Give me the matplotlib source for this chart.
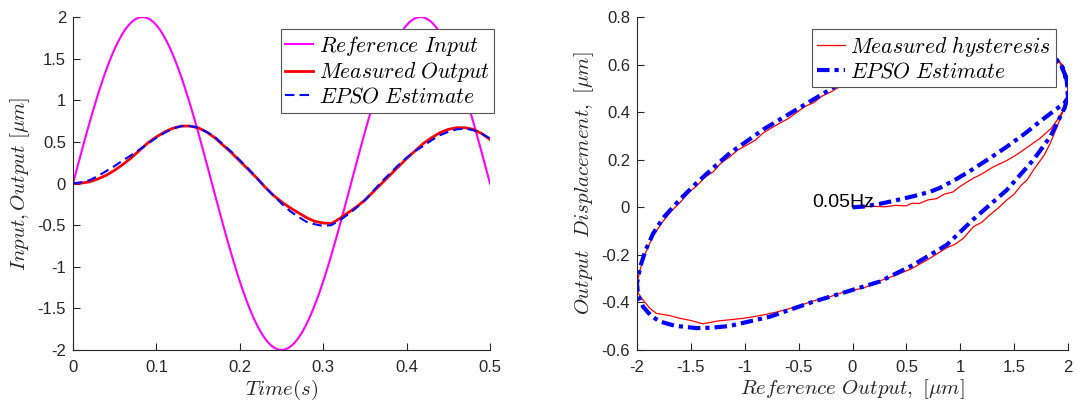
import matplotlib
matplotlib.use("Agg")
import matplotlib.pyplot as plt

plt.rcParams['mathtext.fontset'] = 'cm'
plt.rcParams['font.family'] = ['Liberation Sans', 'DejaVu Sans']
plt.rcParams['axes.unicode_minus'] = False

# ---------------- Left panel data ----------------
t_ref = [k / 240 for k in range(121)]
ref_input = [0.0, 0.157, 0.313, 0.467, 0.618, 0.765, 0.908, 1.045, 1.176, 1.299, 1.414,
             1.521, 1.618, 1.705, 1.782, 1.848, 1.902, 1.945, 1.975, 1.994, 2.0,
             1.994, 1.975, 1.945, 1.902, 1.848, 1.782, 1.705, 1.618, 1.521, 1.414,
             1.299, 1.176, 1.045, 0.908, 0.765, 0.618, 0.467, 0.313, 0.157, 0.0,
             -0.157, -0.313, -0.467, -0.618, -0.765, -0.908, -1.045, -1.176, -1.299, -1.414,
             -1.521, -1.618, -1.705, -1.782, -1.848, -1.902, -1.945, -1.975, -1.994, -2.0,
             -1.994, -1.975, -1.945, -1.902, -1.848, -1.782, -1.705, -1.618, -1.521, -1.414,
             -1.299, -1.176, -1.045, -0.908, -0.765, -0.618, -0.467, -0.313, -0.157, 0.0,
             0.157, 0.313, 0.467, 0.618, 0.765, 0.908, 1.045, 1.176, 1.299, 1.414,
             1.521, 1.618, 1.705, 1.782, 1.848, 1.902, 1.945, 1.975, 1.994, 2.0,
             1.994, 1.975, 1.945, 1.902, 1.848, 1.782, 1.705, 1.618, 1.521, 1.414,
             1.299, 1.176, 1.045, 0.908, 0.765, 0.618, 0.467, 0.313, 0.157, 0.0]

t_out = [k / 100 for k in range(51)]
measured_out = [0.0, 0.005, 0.02, 0.055, 0.10, 0.16, 0.23, 0.31, 0.40, 0.49,
                0.56, 0.62, 0.665, 0.69, 0.69, 0.67, 0.62, 0.55, 0.46, 0.37,
                0.27, 0.17, 0.07, -0.04, -0.14, -0.22, -0.29, -0.35, -0.41, -0.455,
                -0.475, -0.48, -0.42, -0.35, -0.28, -0.20, -0.10, 0.0, 0.10, 0.20,
                0.30, 0.39, 0.48, 0.55, 0.61, 0.65, 0.67, 0.67, 0.65, 0.60, 0.53]
epso_out = [0.0, 0.015, 0.04, 0.09, 0.15, 0.21, 0.28, 0.34, 0.41, 0.48,
            0.55, 0.61, 0.66, 0.69, 0.69, 0.67, 0.62, 0.56, 0.47, 0.38,
            0.28, 0.18, 0.07, -0.04, -0.14, -0.24, -0.33, -0.40, -0.46, -0.49,
            -0.51, -0.50, -0.44, -0.37, -0.29, -0.20, -0.09, 0.02, 0.12, 0.22,
            0.31, 0.39, 0.45, 0.52, 0.58, 0.62, 0.65, 0.66, 0.64, 0.60, 0.54]

# ---------------- Right panel data ----------------
hyst_x = [0.0, 0.2, 0.3, 0.4, 0.5, 0.55, 0.62, 0.7, 0.78, 0.85, 0.93, 1.0, 1.12, 1.2, 1.3, 1.43,
          1.52, 1.6, 1.74, 1.84, 1.9, 1.96, 1.99, 2.0,
          1.99, 1.96, 1.92, 1.87, 1.8,
          1.6, 1.3, 1.0, 0.6, 0.3, 0.0, -0.2, -0.28, -0.36, -0.44, -0.52, -0.6, -0.67, -0.75,
          -0.83, -0.9, -0.98, -1.06, -1.14, -1.22, -1.29, -1.37, -1.45, -1.52, -1.6, -1.68,
          -1.76, -1.85, -1.92, -1.97, -2.0,
          -1.99, -1.944, -1.88, -1.82, -1.7, -1.6, -1.5, -1.39, -1.25, -1.14, -1.0, -0.83,
          -0.7, -0.52, -0.35, -0.21, -0.05, 0.10, 0.25, 0.41, 0.55, 0.72,
          0.875, 0.95, 1.03, 1.123, 1.2, 1.28, 1.36, 1.433, 1.5, 1.56, 1.62, 1.68, 1.78,
          1.836, 1.9, 1.95, 1.985, 2.0, 1.99, 1.96, 1.9]
hyst_y = [0.0, 0.004, 0.002, 0.008, 0.006, 0.017, 0.016, 0.031, 0.036, 0.055, 0.064, 0.088, 0.122,
          0.14, 0.168, 0.196, 0.22, 0.245, 0.29, 0.33, 0.367, 0.41, 0.45, 0.49,
          0.53, 0.58, 0.61, 0.63, 0.64,
          0.64, 0.63, 0.615, 0.595, 0.57, 0.54, 0.485, 0.468, 0.44, 0.424, 0.398, 0.372, 0.355,
          0.334, 0.312, 0.283, 0.262, 0.242, 0.212, 0.186, 0.15, 0.126, 0.088, 0.062, 0.02,
          -0.015, -0.06, -0.12, -0.19, -0.26, -0.32,
          -0.36, -0.39, -0.425, -0.446, -0.455, -0.467, -0.476, -0.49, -0.478, -0.473, -0.466,
          -0.453, -0.44, -0.418, -0.392, -0.376, -0.352, -0.34, -0.31, -0.284, -0.258, -0.214,
          -0.17, -0.156, -0.13, -0.081, -0.063, -0.03, 0.0, 0.031, 0.055, 0.09, 0.115, 0.157,
          0.22, 0.27, 0.34, 0.40, 0.45, 0.50, 0.55, 0.59, 0.625]

epso_x = [0.0, 0.1, 0.25, 0.41, 0.56, 0.72, 0.813, 0.97, 1.123, 1.28, 1.433, 1.6, 1.743, 1.84, 1.913, 1.97, 2.0,
          1.995, 1.97, 1.93, 1.88, 1.8,
          1.6, 1.3, 1.0, 0.6, 0.3, 0.0, -0.086, -0.209, -0.364, -0.519, -0.674, -0.829, -0.983,
          -1.138, -1.294, -1.448, -1.603, -1.758, -1.85, -1.92, -1.97, -2.0,
          -1.99, -1.944, -1.87, -1.789, -1.65, -1.449, -1.3, -1.139, -0.767, -0.364, -0.055, 0.255,
          0.565, 0.875, 1.123, 1.433, 1.68, 1.836, 1.913, 1.97, 2.0, 1.99, 1.96, 1.92, 1.88]
epso_y = [0.0, 0.003, 0.014, 0.03, 0.046, 0.065, 0.082, 0.12, 0.162, 0.208, 0.255, 0.31, 0.362, 0.395, 0.42, 0.44, 0.46,
          0.51, 0.56, 0.60, 0.625, 0.64,
          0.645, 0.64, 0.63, 0.61, 0.585, 0.555, 0.53, 0.495, 0.453, 0.411, 0.369, 0.327, 0.277,
          0.228, 0.165, 0.102, 0.032, -0.045, -0.11, -0.18, -0.25, -0.32,
          -0.37, -0.418, -0.456, -0.48, -0.498, -0.508, -0.506, -0.499, -0.46, -0.397, -0.355, -0.312,
          -0.242, -0.158, -0.05, 0.073, 0.2, 0.297, 0.367, 0.42, 0.47, 0.53, 0.58, 0.61, 0.625]

left_xticks = [0, 0.1, 0.2, 0.3, 0.4, 0.5]
left_yticks = [-2, -1.5, -1, -0.5, 0, 0.5, 1, 1.5, 2]
right_xticks = [-2, -1.5, -1, -0.5, 0, 0.5, 1, 1.5, 2]
right_yticks = [-0.6, -0.4, -0.2, 0, 0.2, 0.4, 0.6, 0.8]

AX_COL = '#262626'
TICK_FS = 12
LAB_FS = 15
LEG_FS = 15.5

fig = plt.figure(figsize=(10.76, 4.05), dpi=100)
ax1 = fig.add_axes([73 / 1076, 55 / 405, 417 / 1076, 333 / 405])
ax2 = fig.add_axes([637 / 1076, 55 / 405, 431 / 1076, 333 / 405])


def style(ax, xt, yt):
    for s in ['top', 'right']:
        ax.spines[s].set_visible(False)
    for s in ['left', 'bottom']:
        ax.spines[s].set_color(AX_COL)
        ax.spines[s].set_linewidth(0.8)
    ax.set_xticks(xt)
    ax.set_yticks(yt)
    ax.set_xticklabels([f"{v:g}" for v in xt])
    ax.set_yticklabels([f"{v:g}" for v in yt])
    ax.tick_params(direction='in', length=5, width=0.8, color=AX_COL,
                   labelcolor=AX_COL, labelsize=TICK_FS)
    ax.tick_params(axis='x', pad=7)
    ax.tick_params(axis='y', pad=5)


def legend(ax, anchor):
    leg = ax.legend(loc='upper right', bbox_to_anchor=anchor, borderaxespad=0,
                    fontsize=LEG_FS, frameon=True, fancybox=False, framealpha=1,
                    edgecolor='#555555', handlelength=1.3, handletextpad=0.25,
                    labelspacing=0.12, borderpad=0.22)
    leg.get_frame().set_linewidth(0.8)
    leg.set_zorder(10)
    return leg


# Left panel
ax1.plot(t_ref, ref_input, color='#FF00FF', lw=1.5, label=r'$Reference\ Input$')
ax1.plot(t_out, measured_out, color='#FF0000', lw=2.0, label=r'$Measured\ Output$')
ax1.plot(t_out, epso_out, color='#0000FF', lw=1.5, ls=(0, (4.5, 2.5)), label=r'$EPSO\ Estimate$')
ax1.set_xlim(0, 0.5)
ax1.set_ylim(-2, 2)
style(ax1, left_xticks, left_yticks)
ax1.set_xlabel(r'$Time(s)$', fontsize=LAB_FS, color=AX_COL, labelpad=2)
ax1.set_ylabel(r'$Input, Output\ [\mu m]$', fontsize=LAB_FS, color=AX_COL, labelpad=4)
legend(ax1, (1.01, 0.964))

# Right panel
ax2.plot(hyst_x, hyst_y, color='#FF0000', lw=0.9, label=r'$Measured\ hysteresis$')
ax2.plot(epso_x, epso_y, color='#0000FF', lw=3.0, ls=(0, (3, 1.2, 1, 1.2)), label=r'$EPSO\ Estimate$')
ax2.text(-0.37, 0.0, '0.05Hz', fontsize=14, color='black', ha='left', va='baseline', zorder=5)
ax2.set_xlim(-2, 2)
ax2.set_ylim(-0.6, 0.8)
style(ax2, right_xticks, right_yticks)
ax2.set_xlabel(r'$Reference\ Output,\ [\mu m]$', fontsize=LAB_FS, color=AX_COL, labelpad=2)
ax2.set_ylabel(r'$Output\ \ Displacement,\ [\mu m]$', fontsize=LAB_FS, color=AX_COL, labelpad=4)
legend(ax2, (0.972, 0.964))

fig.savefig('out.png', dpi=100)
